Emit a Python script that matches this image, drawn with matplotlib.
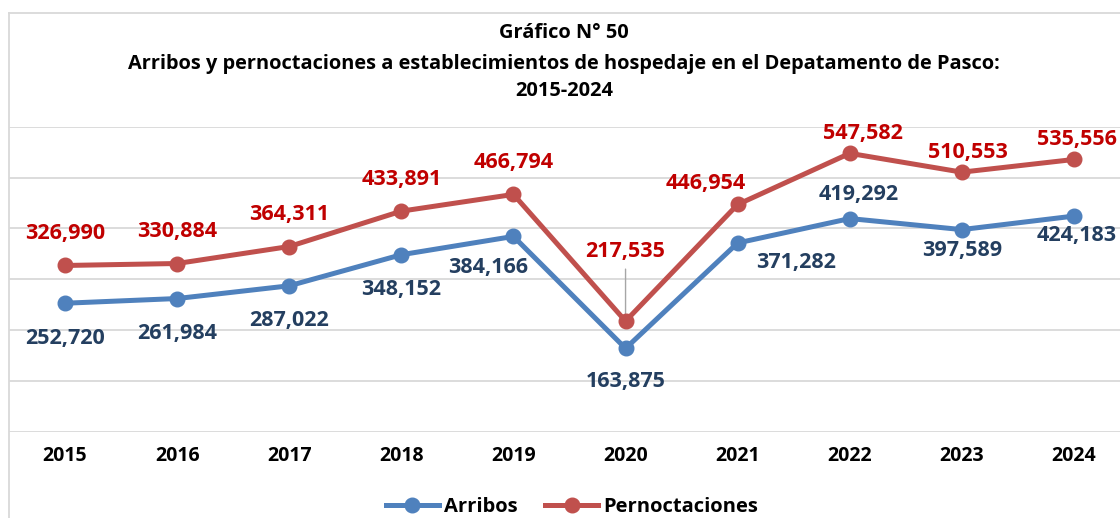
import matplotlib
matplotlib.use("Agg")
import matplotlib.pyplot as plt
from matplotlib.lines import Line2D

plt.rcParams['font.family'] = ['Open Sans', 'DejaVu Sans']

years = [2015, 2016, 2017, 2018, 2019, 2020, 2021, 2022, 2023, 2024]
arribos = [252720, 261984, 287022, 348152, 384166, 163875, 371282, 419292, 397589, 424183]
pernoctaciones = [326990, 330884, 364311, 433891, 466794, 217535, 446954, 547582, 510553, 535556]

title_lines = [
    "Gráfico N° 50",
    "Arribos y pernoctaciones a establecimientos de hospedaje en el Depatamento de Pasco:",
    "2015-2024",
]

BLUE = "#4F81BD"
RED = "#C0504D"
BLUE_TXT = "#243F60"
RED_TXT = "#C00000"
GRID = "#D9D9D9"

# label offsets in pixels (dx, dy)
blue_off = [(0, -35), (0, -35), (0, -35), (0, -35), (-25, -31),
            (0, -33), (58, -20), (9, 24), (0, -21), (3, -19)]
red_off = [(0, 32), (0, 32), (0, 32), (0, 32), (0, 32),
           (0, 70), (-32, 21), (13, 20), (6, 20), (3, 20)]

W, H = 1120, 518
fig = plt.figure(figsize=(W / 100, H / 100), dpi=100)

# plot area (pixels): x 9..1130, y 126.7..431.7 from top
ax = fig.add_axes([9 / W, (H - 431.7) / H, 1121 / W, 305 / H])
x = list(range(len(years)))
ax.set_xlim(-0.5, len(years) - 0.5)
ax.set_ylim(0, 600000)
ax.set_yticks(range(0, 600001, 100000))
ax.yaxis.grid(True, color=GRID, lw=1.3)
ax.set_axisbelow(True)
for s in ax.spines.values():
    s.set_visible(False)
ax.tick_params(axis='y', left=False, labelleft=False)
ax.tick_params(axis='x', bottom=False, pad=7)
ax.set_xticks(x)
ax.set_xticklabels([str(y) for y in years], fontsize=14, fontweight='bold', color='black')

ax.plot(x, arribos, color=BLUE, lw=3.6, marker='o', ms=10.5, solid_capstyle='round',
        zorder=3, clip_on=False)
ax.plot(x, pernoctaciones, color=RED, lw=3.6, marker='o', ms=10.5, solid_capstyle='round',
        zorder=3, clip_on=False)

for i in x:
    dx, dy = blue_off[i]
    ax.annotate(f"{arribos[i]:,}", (i, arribos[i]), xytext=(dx, dy),
                textcoords='offset pixels', ha='center', va='center',
                fontsize=15.5, fontweight='bold', color=BLUE_TXT, zorder=5,
                annotation_clip=False)
    dx, dy = red_off[i]
    ax.annotate(f"{pernoctaciones[i]:,}", (i, pernoctaciones[i]), xytext=(dx, dy),
                textcoords='offset pixels', ha='center', va='center',
                fontsize=15.5, fontweight='bold', color=RED_TXT, zorder=5,
                annotation_clip=False)
    if dy > 50:
        # leader line for a label placed far from its point
        ax.annotate("", (i, pernoctaciones[i]), xytext=(dx, dy - 18),
                    textcoords='offset pixels',
                    arrowprops=dict(arrowstyle='-', color='#A6A6A6', lw=1.0,
                                    shrinkA=0, shrinkB=2), zorder=2)

# chart title
for line, ypx in zip(title_lines, [33, 63.5, 91]):
    fig.text(564 / W, 1 - ypx / H, line, ha='center', va='center',
             fontsize=14.4, fontweight='bold', color='black')

# chart frame (left and top edges)
fig.add_artist(Line2D([8.5 / W, 8.5 / W], [0, 1 - 12.7 / H], color=GRID, lw=1.3))
fig.add_artist(Line2D([8.5 / W, 1], [1 - 12.7 / H, 1 - 12.7 / H], color=GRID, lw=1.3))

handles = [
    Line2D([], [], color=BLUE, lw=3.6, marker='o', ms=10.5, label='Arribos'),
    Line2D([], [], color=RED, lw=3.6, marker='o', ms=10.5, label='Pernoctaciones'),
]
fig.legend(handles=handles, loc='center', bbox_to_anchor=(572 / W, 1 - 507 / H),
           ncol=2, frameon=False, handlelength=2.6, handletextpad=0.25,
           columnspacing=1.4, borderpad=0.1, prop=dict(size=14.5, weight='bold'))

fig.savefig("out.png", dpi=100)
